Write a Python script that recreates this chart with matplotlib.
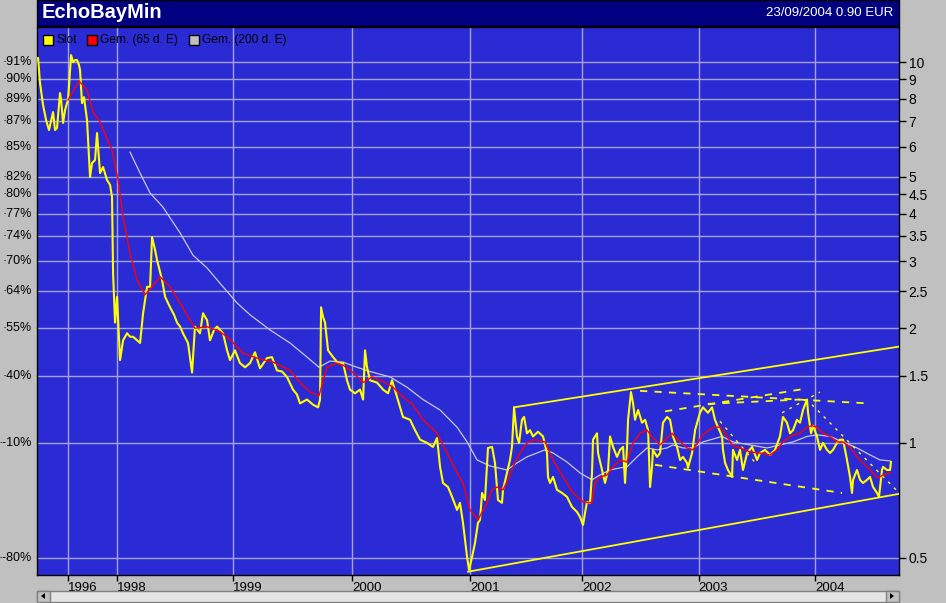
import matplotlib
matplotlib.use('Agg')
import matplotlib.pyplot as plt
import matplotlib.transforms as mtransforms
from matplotlib.patches import Rectangle, Polygon

plt.rcParams['font.family'] = ['Liberation Sans', 'DejaVu Sans']

# price (Slot), decimal years / EUR
slot_t = [1997.321, 1997.338, 1997.364, 1997.390, 1997.415, 1997.450, 1997.467, 1997.484, 1997.510, 1997.519,
          1997.536, 1997.553, 1997.570, 1997.579, 1997.596, 1997.605, 1997.622, 1997.639, 1997.656, 1997.673,
          1997.682, 1997.699, 1997.716, 1997.742, 1997.768, 1997.785, 1997.811, 1997.828, 1997.854, 1997.880,
          1997.914, 1997.940, 1997.957, 1997.966, 1997.983, 1998.000, 1998.026, 1998.052, 1998.086, 1998.112,
          1998.138, 1998.198, 1998.224, 1998.258, 1998.284, 1998.301, 1998.327, 1998.344, 1998.370, 1998.387,
          1998.413, 1998.456, 1998.490, 1998.516, 1998.542, 1998.567, 1998.610, 1998.645, 1998.670, 1998.713,
          1998.739, 1998.774, 1998.799, 1998.834, 1998.860, 1998.885, 1998.911, 1998.946, 1998.971, 1999.014,
          1999.057, 1999.100, 1999.143, 1999.186, 1999.229, 1999.289, 1999.332, 1999.375, 1999.418, 1999.461,
          1999.513, 1999.547, 1999.573, 1999.633, 1999.685, 1999.728, 1999.745, 1999.754, 1999.771, 1999.788,
          1999.814, 1999.857, 1999.900, 1999.943, 1999.977, 2000.003, 2000.046, 2000.089, 2000.115, 2000.132,
          2000.149, 2000.175, 2000.235, 2000.287, 2000.330, 2000.364, 2000.407, 2000.433, 2000.458, 2000.519,
          2000.562, 2000.605, 2000.665, 2000.716, 2000.751, 2000.777, 2000.802, 2000.845, 2000.880, 2000.923,
          2000.948, 2000.974, 2001.009, 2001.026, 2001.052, 2001.077, 2001.103, 2001.120, 2001.138, 2001.163,
          2001.189, 2001.224, 2001.249, 2001.275, 2001.309, 2001.318, 2001.352, 2001.378, 2001.395, 2001.413,
          2001.438, 2001.456, 2001.481, 2001.499, 2001.524, 2001.550, 2001.576, 2001.619, 2001.662, 2001.696,
          2001.705, 2001.722, 2001.748, 2001.782, 2001.825, 2001.868, 2001.911, 2001.954, 2001.980, 2002.006,
          2002.023, 2002.040, 2002.066, 2002.083, 2002.092, 2002.126, 2002.135, 2002.169, 2002.195, 2002.221,
          2002.238, 2002.264, 2002.298, 2002.324, 2002.350, 2002.367, 2002.384, 2002.393, 2002.418, 2002.436,
          2002.453, 2002.479, 2002.513, 2002.539, 2002.565, 2002.582, 2002.599, 2002.607, 2002.642, 2002.668,
          2002.693, 2002.728, 2002.754, 2002.779, 2002.814, 2002.840, 2002.865, 2002.900, 2002.908, 2002.943,
          2002.969, 2002.994, 2003.011, 2003.037, 2003.080, 2003.115, 2003.140, 2003.166, 2003.201, 2003.209,
          2003.227, 2003.252, 2003.287, 2003.295, 2003.330, 2003.355, 2003.381, 2003.416, 2003.459, 2003.502,
          2003.527, 2003.570, 2003.613, 2003.656, 2003.699, 2003.725, 2003.759, 2003.785, 2003.811, 2003.845,
          2003.871, 2003.897, 2003.931, 2003.940, 2003.966, 2003.983, 2004.017, 2004.043, 2004.069, 2004.103,
          2004.129, 2004.155, 2004.189, 2004.215, 2004.241, 2004.275, 2004.301, 2004.318, 2004.327, 2004.361,
          2004.387, 2004.413, 2004.447, 2004.473, 2004.499, 2004.533, 2004.550, 2004.576, 2004.585, 2004.619,
          2004.645, 2004.653]
slot_v = [10.24, 8.81, 7.71, 7.04, 6.63, 7.39, 6.63, 6.71, 8.29, 7.95,
          6.92, 7.48, 7.80, 7.95, 9.53, 10.43, 10.0, 10.12, 10.12, 9.82,
          9.53, 7.80, 8.09, 7.04, 4.99, 5.43, 5.53, 6.51, 5.11, 5.30,
          4.90, 4.76, 4.42, 2.79, 2.07, 2.42, 1.65, 1.86, 1.94, 1.90,
          1.90, 1.83, 2.19, 2.57, 2.57, 3.47, 3.21, 3.02, 2.81, 2.68,
          2.42, 2.27, 2.17, 2.07, 2.02, 1.94, 1.83, 1.53, 2.02, 1.94,
          2.19, 2.10, 1.86, 1.98, 2.02, 1.98, 1.94, 1.75, 1.65, 1.75,
          1.62, 1.58, 1.62, 1.73, 1.57, 1.67, 1.68, 1.55, 1.54, 1.49,
          1.38, 1.34, 1.27, 1.30, 1.26, 1.24, 1.30, 2.27, 2.14, 2.07,
          1.75, 1.68, 1.62, 1.62, 1.46, 1.38, 1.35, 1.38, 1.30, 1.75,
          1.58, 1.46, 1.44, 1.38, 1.35, 1.46, 1.32, 1.24, 1.17, 1.15,
          1.08, 1.02, 1.00, 0.976, 1.03, 0.865, 0.785, 0.766, 0.722, 0.667,
          0.696, 0.617, 0.502, 0.464, 0.502, 0.546, 0.617, 0.628, 0.739, 0.708,
          0.970, 0.976, 0.886, 0.708, 0.696, 0.753, 0.834, 0.902, 0.976, 1.24,
          1.04, 1.00, 1.15, 1.17, 1.06, 1.08, 1.04, 1.07, 1.04, 0.941,
          0.814, 0.785, 0.814, 0.753, 0.739, 0.722, 0.679, 0.659, 0.639, 0.609,
          0.655, 0.700, 0.696, 0.834, 1.02, 1.06, 0.941, 0.849, 0.785, 0.849,
          1.04, 0.976, 0.919, 0.959, 0.976, 0.785, 0.976, 1.15, 1.36, 1.27,
          1.15, 1.22, 1.13, 1.15, 1.08, 0.766, 0.865, 0.959, 0.919, 0.941,
          1.13, 1.17, 1.15, 1.04, 0.976, 0.902, 0.919, 0.886, 0.860, 0.941,
          1.08, 1.15, 1.20, 1.24, 1.20, 1.24, 1.15, 1.10, 1.04, 0.959,
          0.886, 0.849, 0.814, 0.959, 0.902, 0.959, 0.849, 0.941, 0.976, 0.902,
          0.941, 0.959, 0.930, 0.959, 1.04, 1.17, 1.13, 1.06, 1.08, 1.15,
          1.13, 1.22, 1.30, 1.20, 1.06, 1.11, 1.04, 0.959, 1.00, 0.959,
          0.941, 0.959, 1.00, 1.02, 1.02, 0.902, 0.814, 0.739, 0.800, 0.849,
          0.800, 0.785, 0.800, 0.814, 0.766, 0.739, 0.722, 0.849, 0.865, 0.849,
          0.849, 0.891]

# 65 day average
ma65_t = [1997.579, 1997.673, 1997.742, 1997.794, 1997.854, 1997.957, 1998.009, 1998.052, 1998.112, 1998.172,
          1998.241, 1998.301, 1998.370, 1998.456, 1998.542, 1998.628, 1998.670, 1998.774, 1998.885, 1998.971,
          1999.083, 1999.203, 1999.341, 1999.487, 1999.573, 1999.659, 1999.736, 1999.805, 1999.891, 1999.943,
          2000.029, 2000.115, 2000.192, 2000.287, 2000.373, 2000.458, 2000.544, 2000.630, 2000.751, 2000.837,
          2000.923, 2000.974, 2001.034, 2001.103, 2001.181, 2001.224, 2001.267, 2001.318, 2001.361, 2001.404,
          2001.464, 2001.524, 2001.593, 2001.679, 2001.748, 2001.834, 2001.920, 2002.006, 2002.083, 2002.109,
          2002.152, 2002.212, 2002.264, 2002.324, 2002.384, 2002.436, 2002.496, 2002.556, 2002.607, 2002.668,
          2002.728, 2002.771, 2002.822, 2002.900, 2002.951, 2003.037, 2003.123, 2003.183, 2003.227, 2003.287,
          2003.355, 2003.441, 2003.527, 2003.613, 2003.674, 2003.725, 2003.785, 2003.871, 2003.931, 2003.974,
          2004.017, 2004.069, 2004.129, 2004.189, 2004.241, 2004.301, 2004.361, 2004.413, 2004.490, 2004.542,
          2004.585, 2004.645]
ma65_v = [7.95, 8.92, 8.44, 7.39, 6.96, 5.87, 4.90, 3.92, 3.15, 2.68,
          2.45, 2.57, 2.73, 2.57, 2.33, 2.10, 2.00, 2.02, 1.96, 1.87,
          1.72, 1.67, 1.63, 1.55, 1.44, 1.36, 1.33, 1.58, 1.62, 1.60,
          1.53, 1.44, 1.49, 1.45, 1.40, 1.32, 1.26, 1.15, 1.06, 0.941,
          0.834, 0.785, 0.667, 0.628, 0.696, 0.753, 0.766, 0.753, 0.800, 0.865,
          0.941, 1.00, 1.02, 1.006, 0.902, 0.814, 0.739, 0.700, 0.696, 0.785,
          0.814, 0.824, 0.865, 0.902, 0.891, 1.00, 1.06, 1.08, 1.03, 0.988,
          1.03, 1.06, 1.02, 0.970, 0.959, 1.05, 1.10, 1.10, 1.06, 0.988,
          0.970, 0.947, 0.941, 0.930, 0.959, 1.006, 1.04, 1.06, 1.10, 1.11,
          1.10, 1.06, 1.04, 1.006, 1.006, 0.976, 0.919, 0.886, 0.839, 0.809,
          0.824, 0.834]

# 200 day average
ma200_t = [1998.112, 1998.198, 1998.284, 1998.395, 1998.542, 1998.653, 1998.774, 1998.911, 1999.032, 1999.143,
           1999.315, 1999.487, 1999.633, 1999.736, 1999.831, 1999.943, 2000.063, 2000.175, 2000.347, 2000.493,
           2000.630, 2000.777, 2000.923, 2001.009, 2001.095, 2001.206, 2001.275, 2001.352, 2001.438, 2001.524,
           2001.610, 2001.679, 2001.748, 2001.868, 2001.980, 2002.083, 2002.152, 2002.238, 2002.324, 2002.384,
           2002.470, 2002.556, 2002.642, 2002.728, 2002.779, 2002.865, 2002.951, 2003.037, 2003.201, 2003.295,
           2003.441, 2003.587, 2003.699, 2003.811, 2003.931, 2004.017, 2004.129, 2004.241, 2004.361, 2004.473,
           2004.559, 2004.645]
ma200_v = [5.80, 5.11, 4.53, 4.16, 3.56, 3.11, 2.88, 2.57, 2.33, 2.17,
           1.98, 1.83, 1.68, 1.58, 1.64, 1.63, 1.58, 1.54, 1.49, 1.40,
           1.30, 1.22, 1.10, 1.006, 0.902, 0.870, 0.860, 0.849, 0.886, 0.919,
           0.941, 0.959, 0.941, 0.891, 0.834, 0.800, 0.824, 0.849, 0.860, 0.865,
           0.919, 0.970, 0.959, 0.970, 0.988, 0.970, 0.970, 1.006, 1.04, 1.006,
           0.988, 0.970, 0.988, 1.006, 1.04, 1.05, 1.04, 1.006, 0.970, 0.930,
           0.902, 0.897]

# drawn trend lines: (t0, v0, t1, v1)
solid_lines = [(2001.017, 0.459, 2004.722, 0.735),
               (2001.413, 1.24, 2004.722, 1.79)]
dashed_lines = [(2002.496, 1.37, 2004.456, 1.27),
                (2002.711, 1.21, 2003.931, 1.39),
                (2003.080, 1.266, 2003.871, 1.30),
                (2002.625, 0.876, 2004.232, 0.739)]
dotted_lines = [(2003.717, 1.20, 2004.043, 1.36),
                (2003.974, 1.26, 2004.714, 0.744),
                (2003.183, 1.14, 2003.502, 0.876)]

year_pos = [1997.579, 1998.0, 1999.0, 2000.02, 2001.034, 2002.0, 2003.0, 2004.0]
year_lab = ['1996', '1998', '1999', '2000', '2001', '2002', '2003', '2004']
price_ticks = [10, 9, 8, 7, 6, 5, 4.5, 4, 3.5, 3, 2.5, 2, 1.5, 1, 0.5]
price_lab = ['10', '9', '8', '7', '6', '5', '4.5', '4', '3.5', '3', '2.5', '2', '1.5', '1', '0.5']
pct_lab = ['91%', '90%', '89%', '87%', '85%', '82%', '80%', '77%', '74%', '70%', '64%', '55%', '40%', '-10%', '-80%']

W, H = 946, 603
fig = plt.figure(figsize=(W / 100, H / 100), dpi=100, facecolor='#c0c0c0')
ax = fig.add_axes([37 / W, (H - 575) / H, 862 / W, 548 / H])
ax.set_facecolor('#2b2bd5')
ax.set_yscale('log')
ax.set_xlim(1997.312, 2004.722)
ax.set_ylim(0.450, 12.36)

grid_c = '#a4a4dc'
for v in price_ticks:
    ax.axhline(v, color=grid_c, lw=1, zorder=1)
for t in year_pos:
    ax.axvline(t, color=grid_c, lw=1, zorder=1)

ax.plot(ma200_t, ma200_v, color='#c8c8d8', lw=0.9, zorder=3)
ax.plot(slot_t, slot_v, color='#ffff00', lw=1.5, zorder=4)
ax.plot(ma65_t, ma65_v, color='#ff0000', lw=1.0, zorder=5)
for t0, v0, t1, v1 in solid_lines:
    ax.plot([t0, t1], [v0, v1], color='#ffff00', lw=1.3, zorder=4)
for t0, v0, t1, v1 in dashed_lines:
    ax.plot([t0, t1], [v0, v1], color='#ffff00', lw=1.3, ls=(0, (4, 4)), zorder=4)
for t0, v0, t1, v1 in dotted_lines:
    ax.plot([t0, t1], [v0, v1], color='#ffff00', lw=1.0, ls=(0, (2, 4)), zorder=4)

# axes and ticks
ax.yaxis.tick_right()
ax.set_yticks(price_ticks)
ax.set_yticklabels(price_lab)
ax.yaxis.set_minor_locator(matplotlib.ticker.NullLocator())
ax.tick_params(axis='y', which='major', direction='out', length=5, width=1, color='black',
               labelsize=10, pad=2, labelcolor='black')
ax.set_xticks(year_pos)
ax.set_xticklabels(year_lab)
ax.tick_params(axis='x', direction='out', length=4, width=1, color='black', labelsize=9.5, pad=1)
for lab in ax.get_xticklabels():
    lab.set_horizontalalignment('left')
for s in ax.spines.values():
    s.set_color('black')
    s.set_linewidth(1)

trans = mtransforms.blended_transform_factory(ax.transAxes, ax.transData)
for v, lab in zip(price_ticks, pct_lab):
    ax.text(-0.006, v, '\u00b7' + lab, transform=trans, ha='right', va='center', fontsize=9, color='black')

# title bar
fig.patches.append(Rectangle((37 / W, (H - 26) / H), 862 / W, 26 / H, transform=fig.transFigure,
                             facecolor='#000080', edgecolor='black', lw=1, zorder=0))
fig.text(42 / W, (H - 13) / H, 'EchoBayMin', color='white', fontsize=14.5, fontweight='bold', va='center')
fig.text(893 / W, (H - 13) / H, '23/09/2004 0.90 EUR', color='white', fontsize=9.5, va='center', ha='right')

# legend row
leg = [('#ffff00', 'Slot', 43), ('#ff0000', 'Gem. (65 d. E)', 87), ('#c0c0c0', 'Gem. (200 d. E)', 189)]
for col, txt, x0 in leg:
    fig.patches.append(Rectangle((x0 / W, (H - 45) / H), 10 / W, 10 / H, transform=fig.transFigure,
                                 facecolor=col, edgecolor='black', lw=1, zorder=5))
    fig.text((x0 + 13) / W, (H - 40) / H, txt, color='black', fontsize=8.6, va='center', zorder=6)

# scroll bar
fig.patches.append(Rectangle((37 / W, 1 / H), 862 / W, 11 / H, transform=fig.transFigure,
                             facecolor='#e4e4e4', edgecolor='#808080', lw=1))
for bx in (37, 886):
    fig.patches.append(Rectangle((bx / W, 1 / H), 13 / W, 11 / H, transform=fig.transFigure,
                                 facecolor='#c0c0c0', edgecolor='#808080', lw=1))
fig.patches.append(Polygon([(45 / W, 4 / H), (45 / W, 10 / H), (41 / W, 7 / H)], closed=True,
                           transform=fig.transFigure, facecolor='black'))
fig.patches.append(Polygon([(890 / W, 4 / H), (890 / W, 10 / H), (894 / W, 7 / H)], closed=True,
                           transform=fig.transFigure, facecolor='black'))

fig.savefig('out.png', dpi=100, facecolor=fig.get_facecolor())
